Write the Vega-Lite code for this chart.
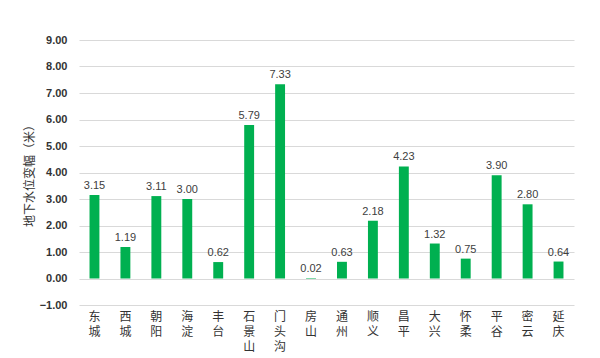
{
  "$schema": "https://vega.github.io/schema/vega-lite/v6.json",
  "width": 495,
  "height": 265,
  "autosize": {"type": "none"},
  "padding": {"left": 79, "top": 40, "right": 26, "bottom": 53},
  "background": "white",
  "config": {"view": {"stroke": null}, "font": "Noto Sans CJK SC"},
  "data": {"values": [
    {"district": "东城", "value": 3.15},
    {"district": "西城", "value": 1.19},
    {"district": "朝阳", "value": 3.11},
    {"district": "海淀", "value": 3.00},
    {"district": "丰台", "value": 0.62},
    {"district": "石景山", "value": 5.79},
    {"district": "门头沟", "value": 7.33},
    {"district": "房山", "value": 0.02},
    {"district": "通州", "value": 0.63},
    {"district": "顺义", "value": 2.18},
    {"district": "昌平", "value": 4.23},
    {"district": "大兴", "value": 1.32},
    {"district": "怀柔", "value": 0.75},
    {"district": "平谷", "value": 3.90},
    {"district": "密云", "value": 2.80},
    {"district": "延庆", "value": 0.64}
  ]},
  "encoding": {
    "x": {
      "field": "district", "type": "nominal", "sort": null,
      "scale": {"paddingInner": 0.68, "paddingOuter": 0.34},
      "axis": {
        "title": null, "labelAngle": 0, "domain": false, "ticks": false,
        "labelExpr": "split(datum.label, '')",
        "labelLineHeight": 15, "labelFontSize": 12, "labelColor": "#333333",
        "labelPadding": 6, "labelBaseline": "top",
        "labelFont": "Noto Sans CJK SC"
      }
    },
    "y": {
      "field": "value", "type": "quantitative",
      "scale": {"domain": [-1, 9], "nice": false},
      "axis": {
        "title": "地下水位变幅（米）", "titleFontSize": 12, "titleFontWeight": "normal",
        "titleColor": "#333333", "titlePadding": 3,
        "values": [-1, 0, 1, 2, 3, 4, 5, 6, 7, 8, 9],
        "format": ".2f", "labelFontWeight": "bold", "labelFontSize": 11,
        "labelColor": "#333333", "labelPadding": 12, "labelFont": "Liberation Sans",
        "domain": false, "ticks": false,
        "grid": true, "gridColor": "#d9d9d9", "gridWidth": 1
      }
    }
  },
  "layer": [
    {"mark": {"type": "bar", "color": "#00B050"}, "encoding": {"y2": {"datum": 0}}},
    {
      "mark": {"type": "text", "dy": -9, "fontSize": 11, "color": "#404040", "font": "Liberation Sans"},
      "encoding": {"text": {"field": "value", "type": "quantitative", "format": ".2f"}}
    }
  ]
}
